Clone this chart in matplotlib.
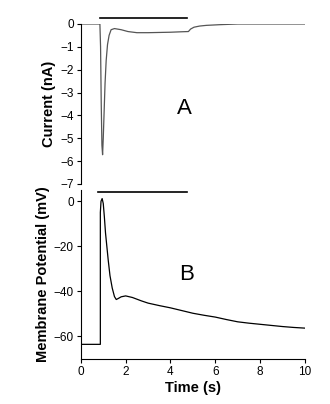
import matplotlib
matplotlib.use("Agg")
import matplotlib.pyplot as plt

plt.rcParams['font.family'] = ['Liberation Sans', 'DejaVu Sans']

# current trace (panel A)
t_cur = [0, 0.85, 0.88, 0.91, 0.94, 0.97, 1.0, 1.04, 1.08, 1.13, 1.19, 1.26, 1.35, 1.5,
         1.8, 2.1, 2.5, 3.0, 3.5, 4.0, 4.5, 4.8, 4.9, 5.05, 5.3, 5.6, 6.2, 7.0, 8.0, 9.0, 10.0]
cur = [0, 0, -1.0, -3.5, -5.3, -5.72, -5.0, -3.8, -2.6, -1.6, -0.9, -0.5, -0.25, -0.2,
       -0.25, -0.33, -0.38, -0.38, -0.37, -0.36, -0.34, -0.33, -0.22, -0.14, -0.09, -0.06, -0.03, 0, 0, 0, 0]

# membrane potential trace (panel B)
t_vm = [0, 0.87, 0.87, 0.9, 0.95, 1.0, 1.05, 1.1, 1.16, 1.22, 1.3, 1.4, 1.5, 1.58, 1.66,
        1.8, 2.0, 2.3, 2.7, 3.0, 3.5, 4.0, 4.5, 5.0, 5.5, 6.0, 6.5, 7.0, 7.5, 8.0, 8.5, 9.0, 9.5, 10.0]
vm = [-63.5, -63.5, -5, 0, 1.2, -1, -7, -14, -20, -26, -33, -38.5, -42.3, -43.6, -43.2,
      -42.4, -42.0, -42.7, -44.2, -45.2, -46.3, -47.3, -48.5, -49.7, -50.6, -51.4, -52.5, -53.5, -54.1, -54.6, -55.1, -55.6, -56.0, -56.3]

# stimulus bars
bar_a = [0.85, 4.73]
bar_b = [0.77, 4.73]

fig = plt.figure(figsize=(3.3, 4.04), dpi=100)
ax1 = fig.add_axes([0.245, 0.5446, 0.679, 0.396])
ax2 = fig.add_axes([0.245, 0.1114, 0.679, 0.4183])

ax1.plot(t_cur, cur, color='#555555', lw=0.9)
ax1.plot(bar_a, [0.27, 0.27], color='black', lw=1.2, clip_on=False)
ax1.set_xlim(0, 10)
ax1.set_ylim(-7, 0)
ax1.set_yticks(range(-7, 1))
ax1.set_xticks([])
for s in ['top', 'right', 'bottom']:
    ax1.spines[s].set_visible(False)
ax1.set_ylabel('Current (nA)', fontsize=10.5, fontweight='bold', labelpad=3)
ax1.text(4.6, -3.7, 'A', fontsize=16, ha='center', va='center')

ax2.plot(t_vm, vm, color='black', lw=0.9)
ax2.plot(bar_b, [4, 4], color='black', lw=1.2, clip_on=False)
ax2.set_xlim(0, 10)
ax2.set_ylim(-70, 5)
ax2.set_yticks([-60, -40, -20, 0])
ax2.set_xticks([0, 2, 4, 6, 8, 10])
for s in ['top', 'right']:
    ax2.spines[s].set_visible(False)
ax2.set_ylabel('Membrane Potential (mV)', fontsize=10.5, fontweight='bold', labelpad=3)
ax2.set_xlabel('Time (s)', fontsize=10.5, fontweight='bold', labelpad=2)
ax2.text(4.7, -32.5, 'B', fontsize=16, ha='center', va='center')

for ax in (ax1, ax2):
    ax.tick_params(labelsize=8.5, length=3, width=0.8, pad=2)
    for s in ax.spines.values():
        s.set_linewidth(0.8)

fig.savefig('out.png', dpi=100)
